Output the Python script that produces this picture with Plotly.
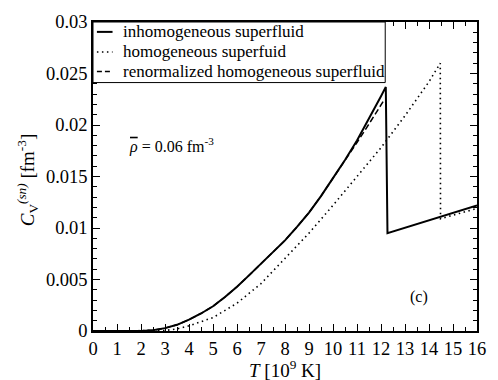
import plotly.graph_objects as go

# ---- data ----
T_inhom = [0, 1, 2, 2.5, 3, 3.5, 4, 4.5, 5, 5.5, 6, 6.5, 7, 7.5, 8, 8.5, 9, 9.5,
           10, 10.5, 11, 11.5, 12, 12.2, 12.27, 16]
C_inhom = [0, 0, 0.00001, 0.00008, 0.00028, 0.0006, 0.0011, 0.0017, 0.0024, 0.0033,
           0.0043, 0.0054, 0.0065, 0.0076, 0.0088, 0.0101, 0.0115, 0.0131,
           0.0148, 0.0166, 0.0185, 0.0206, 0.0228, 0.0237, 0.0095, 0.0122]

T_hom = [0, 2, 3, 3.5, 4, 5, 6, 7, 8, 9, 10, 11, 12, 13, 14, 14.47, 14.48, 16]
C_hom = [0, 0, 0.00005, 0.0002, 0.0005, 0.0013, 0.0027, 0.0046, 0.0070, 0.0095,
         0.0122, 0.0150, 0.0178, 0.0209, 0.0242, 0.0260, 0.0109, 0.0119]

T_renorm = [0, 1, 2, 2.5, 3, 3.5, 4, 4.5, 5, 5.5, 6, 6.5, 7, 7.5, 8, 8.5, 9, 9.5,
            10, 10.5, 11, 11.5, 12, 12.15]
C_renorm = [0, 0, 0.00001, 0.00008, 0.00028, 0.0006, 0.0011, 0.0017, 0.0024, 0.0033,
            0.0043, 0.0054, 0.0065, 0.0076, 0.0088, 0.0101, 0.0115, 0.0131,
            0.0148, 0.0165, 0.0183, 0.0201, 0.0220, 0.0225]

legend_labels = ["inhomogeneous superfluid", "homogeneous superfuid",
                 "renormalized homogeneous superfluid"]

x_ticks = list(range(0, 17))
y_ticks = [0, 0.005, 0.01, 0.015, 0.02, 0.025, 0.03]
y_ticktext = ["0", "0.005", "0.01", "0.015", "0.02", "0.025", "0.03"]

FONT = "Liberation Serif, Times New Roman, Times, serif"

fig = go.Figure()
fig.add_trace(go.Scatter(x=T_inhom, y=C_inhom, mode="lines",
                         line=dict(color="black", width=2), name=legend_labels[0]))
fig.add_trace(go.Scatter(x=T_hom, y=C_hom, mode="lines",
                         line=dict(color="black", width=1.6, dash="1.5px,3.5px"),
                         name=legend_labels[1]))
fig.add_trace(go.Scatter(x=T_renorm, y=C_renorm, mode="lines",
                         line=dict(color="black", width=1.5, dash="6px,3px"),
                         name=legend_labels[2]))

axis_common = dict(showline=True, linecolor="black", linewidth=1.5, mirror="allticks",
                   ticks="inside", ticklen=7, tickwidth=1, tickcolor="black",
                   showgrid=False, zeroline=False,
                   tickfont=dict(family=FONT, size=18.5, color="black"))

fig.update_xaxes(range=[0, 16], tickvals=x_ticks,
                 minor=dict(dtick=0.5, ticklen=4, ticks="inside", tickcolor="black",
                            showgrid=False),
                 **axis_common)
fig.update_yaxes(range=[0, 0.03], tickvals=y_ticks, ticktext=y_ticktext,
                 minor=dict(dtick=0.001, ticklen=4, ticks="inside", tickcolor="black",
                            showgrid=False),
                 **axis_common)

# manual legend box (paper coordinates of the plot area)
shapes = [dict(type="rect", xref="paper", yref="paper", x0=0, x1=0.761, y0=0.804, y1=1,
               line=dict(color="black", width=1), fillcolor="white", layer="above")]
rows_y = [0.968, 0.903, 0.840]
dashes = ["solid", "1.5px,3.5px", "5px,3px"]
widths = [2, 1.6, 1.5]
annotations = []
for ry, d, w, lab in zip(rows_y, dashes, widths, legend_labels):
    shapes.append(dict(type="line", xref="paper", yref="paper", x0=0.0102, x1=0.0509,
                       y0=ry, y1=ry, line=dict(color="black", width=w, dash=d),
                       layer="above"))
    annotations.append(dict(xref="paper", yref="paper", x=0.0738, y=ry, text=lab,
                            showarrow=False, xanchor="left", yanchor="middle",
                            font=dict(family=FONT, size=17, color="black")))

annotations += [
    dict(xref="x", yref="y", x=1.43, y=0.0180, xanchor="left", yanchor="middle",
         text="<i><span style='text-decoration:overline'>ρ</span></i> = 0.06 fm<sup>-3</sup>",
         showarrow=False, font=dict(family=FONT, size=16, color="black")),
    dict(xref="x", yref="y", x=13.6, y=0.0033, xanchor="center", yanchor="middle",
         text="(c)", showarrow=False, font=dict(family=FONT, size=16, color="black")),
    dict(xref="paper", yref="paper", x=0.5, y=-0.122, xanchor="center", yanchor="middle",
         text="<i>T</i> [10<sup>9</sup> K]", showarrow=False,
         font=dict(family=FONT, size=19, color="black")),
    dict(xref="paper", yref="paper", x=-0.17, y=0.49, xanchor="center", yanchor="middle",
         textangle=-90,
         text="<i>C</i><sub>V</sub><sup><i>(sn)</i></sup> [fm<sup>-3</sup>]",
         showarrow=False, font=dict(family=FONT, size=19, color="black")),
]

fig.update_layout(width=498, height=380, margin=dict(l=93, r=12, t=15, b=49),
                  paper_bgcolor="white", plot_bgcolor="white", showlegend=False,
                  shapes=shapes, annotations=annotations,
                  font=dict(family=FONT, color="black"))

fig.write_html("out.html")
